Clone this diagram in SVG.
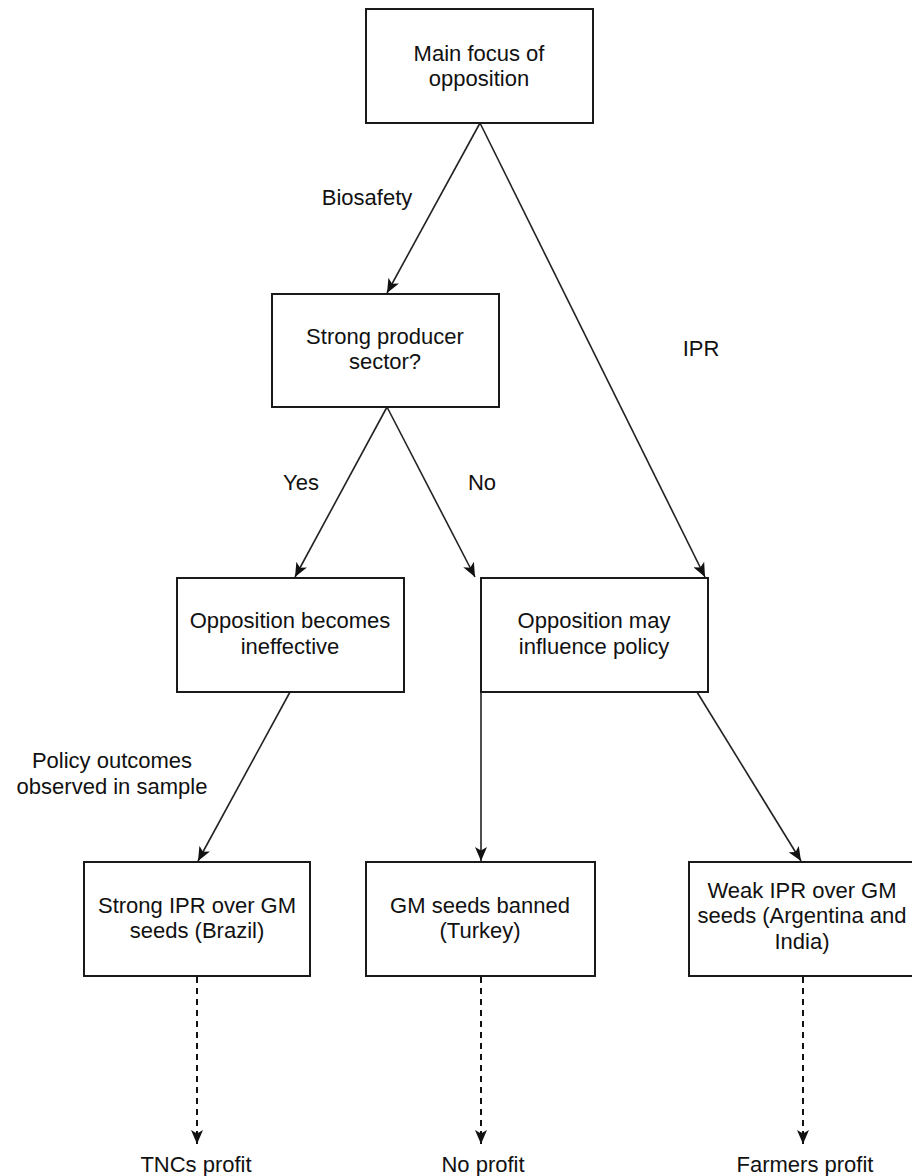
<svg xmlns="http://www.w3.org/2000/svg" width="912" height="1176" viewBox="0 0 912 1176">
<defs>
<style>
.box{fill:#ffffff;stroke:#1a1a1a;stroke-width:2}
.t{font-family:"Liberation Sans",Arial,sans-serif;font-size:22px;fill:#111111;text-anchor:middle}
.edge{fill:none;stroke:#222222;stroke-width:1.6}
.dash{fill:none;stroke:#111111;stroke-width:2;stroke-dasharray:6 5}
</style>
<marker id="arr" viewBox="0 0 14 12" refX="14" refY="6" markerWidth="14" markerHeight="12" markerUnits="userSpaceOnUse" orient="auto">
<path d="M0,0 L14,6 L0,12 L3.5,6 Z" fill="#111"/>
</marker>
</defs>
<rect width="912" height="1176" fill="#ffffff"/>
<g id="connectors">
<line class="edge" x1="480" y1="123" x2="387" y2="293" marker-end="url(#arr)"/>
<line class="edge" x1="480" y1="123" x2="705" y2="577" marker-end="url(#arr)"/>
<line class="edge" x1="387" y1="407" x2="295" y2="577" marker-end="url(#arr)"/>
<line class="edge" x1="387" y1="407" x2="475" y2="577" marker-end="url(#arr)"/>
<line class="edge" x1="290" y1="692" x2="198" y2="861" marker-end="url(#arr)"/>
<line class="edge" x1="481" y1="692" x2="481" y2="861" marker-end="url(#arr)"/>
<line class="edge" x1="697" y1="692" x2="801" y2="861" marker-end="url(#arr)"/>
<line class="dash" x1="197" y1="977" x2="197" y2="1144" marker-end="url(#arr)"/>
<line class="dash" x1="481" y1="977" x2="481" y2="1144" marker-end="url(#arr)"/>
<line class="dash" x1="803" y1="977" x2="803" y2="1144" marker-end="url(#arr)"/>
<text class="t" x="367" y="205">Biosafety</text>
<text class="t" x="701" y="356">IPR</text>
<text class="t" x="301" y="490">Yes</text>
<text class="t" x="482" y="490">No</text>
<text class="t" x="112" y="768">Policy outcomes</text>
<text class="t" x="112" y="794">observed in sample</text>
</g>
<g id="n1"><rect class="box" x="366" y="9" width="227" height="114"/><text class="t" x="479" y="61">Main focus of</text><text class="t" x="479" y="86">opposition</text></g>
<g id="n2"><rect class="box" x="272" y="294" width="227" height="113"/><text class="t" x="385" y="344">Strong producer</text><text class="t" x="385" y="369">sector?</text></g>
<g id="n3"><rect class="box" x="177" y="578" width="227" height="114"/><text class="t" x="290" y="628">Opposition becomes</text><text class="t" x="290" y="654">ineffective</text></g>
<g id="n4"><rect class="box" x="481" y="578" width="227" height="114"/><text class="t" x="594" y="628">Opposition may</text><text class="t" x="594" y="654">influence policy</text></g>
<g id="n5"><rect class="box" x="84" y="862" width="226" height="114"/><text class="t" x="197" y="913">Strong IPR over GM</text><text class="t" x="197" y="938">seeds (Brazil)</text></g>
<g id="n6"><rect class="box" x="366" y="862" width="229" height="114"/><text class="t" x="480" y="913">GM seeds banned</text><text class="t" x="480" y="938">(Turkey)</text></g>
<g id="n7"><rect class="box" x="689" y="862" width="227" height="114"/><text class="t" x="802" y="898">Weak IPR over GM</text><text class="t" x="802" y="923">seeds (Argentina and</text><text class="t" x="802" y="949">India)</text></g>
<g id="outcomes">
<text class="t" x="196" y="1172">TNCs profit</text>
<text class="t" x="483" y="1172">No profit</text>
<text class="t" x="805" y="1172">Farmers profit</text>
</g>
</svg>
